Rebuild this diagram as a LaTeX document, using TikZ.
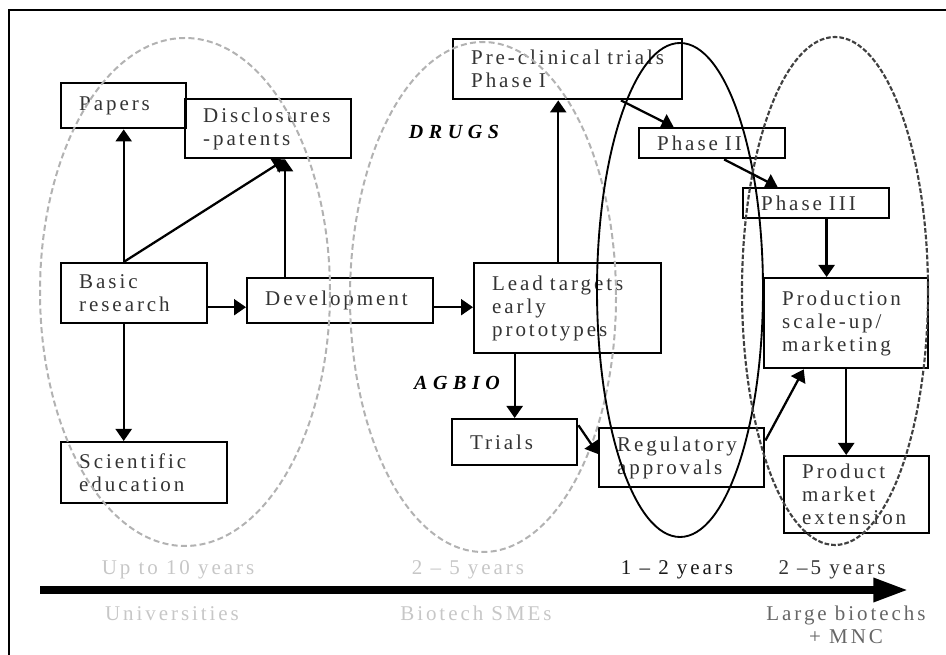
\documentclass[tikz,border=0pt]{standalone}
\usepackage{fontspec}
\setmainfont{Liberation Serif}[LetterSpace=14]
\newfontfamily\tagfont{Liberation Serif}[LetterSpace=28]
\usetikzlibrary{arrows.meta,calc}

\begin{document}
\begin{tikzpicture}[x=.75pt,y=-.75pt,
	font=\fontsize{15.75}{17.25}\selectfont,
	blk/.style={draw,line width=1.8pt,anchor=north west,align=left,inner xsep=13.5pt,inner ysep=0pt,text=black!80},
	arr/.style={line width=1.7pt,-{Triangle[length=9pt,width=12pt]}},
	pale/.style={text=black!22,anchor=base},
	yrs/.style={anchor=base},
	tag/.style={font=\fontsize{15}{17}\selectfont\tagfont\bfseries\itshape,anchor=base},
	paledash/.style={draw=black!30,line width=1.5pt,dash pattern=on 4.5pt off 2.5pt},
	darkdash/.style={draw=black!75,line width=1.6pt,dash pattern=on 3.5pt off 1.5pt}]
	\useasboundingbox (0,0) rectangle (946,655);
	\draw[line width=1.6pt] (9,655) -- (9,10) -- (946,10);% frame
	% boxes
	\node[blk,text width=66.75pt,minimum height=33.75pt] (papers) at (60,82) {Papers};
	\node[blk,text width=97.5pt,minimum height=44.25pt] (disc) at (184,98) {Disclosures\\-patents};
	\node[blk,text width=82.5pt,minimum height=45pt] (basic) at (60,262) {Basic\\ research};
	\node[blk,text width=112.5pt,minimum height=33.75pt] (devel) at (246,277) {Development};
	\node[blk,text width=97.5pt,minimum height=45.75pt] (sci) at (60,441) {Scientific\\education};
	\node[blk,text width=113.25pt,minimum height=67.5pt] (lead) at (473,262) {Lead targets\\ early\\ prototypes};
	\node[blk,text width=144.75pt,minimum height=45pt] (precl) at (452,38) {Pre-clinical trials\\Phase I};
	\node[blk,text width=82.5pt,minimum height=22.5pt] (ph2) at (638,127) {Phase II};
	\node[blk,text width=82.5pt,minimum height=22.5pt] (ph3) at (742,187) {Phase III};
	\node[blk,text width=96pt,minimum height=67.5pt] (prod) at (763,277) {Production\\ scale-up/\\ marketing};
	\node[blk,text width=66.75pt,minimum height=34.5pt] (trials) at (451,418) {Trials};
	\node[blk,text width=96.75pt,minimum height=44.25pt] (reg) at (598,427) {Regulatory\\ approvals};
	\node[blk,text width=81.75pt,minimum height=57.75pt] (pme) at (783,455) {Product\\market\\extension};
	% stages
	\draw[paledash] (185,292) ellipse[x radius=145,y radius=254];
	\draw[paledash] (483,297) ellipse[x radius=133,y radius=255];
	\draw[line width=1.4pt] (680,290) ellipse[x radius=83,y radius=247];
	\draw[darkdash] (835,291) ellipse[x radius=93,y radius=254];
	\node[tag] (drugs) at (454,139) {DRUGS};
	\node[tag] (agb) at (457,390) {AGBIO};
	% links
	\coordinate (discin) at ($(disc.south west)!.6!(disc.south east)$);
	\draw[arr] (papers.south |- basic.north) -- (papers.south);
	\draw[arr] (papers.south |- basic.north) -- (discin);
	\draw[arr] (devel.north -| discin) -- (discin);
	\draw[arr] (papers.south |- basic.south) -- (papers.south |- sci.north);
	\coordinate (flow) at ($(devel.west)+(0,6.5)$);
	\draw[arr] (basic.east |- flow) -- (flow);
	\draw[arr] (devel.east |- flow) -- (lead.west |- flow);
	\coordinate (drug) at ($(lead.north west)!.45!(lead.north east)$);
	\draw[arr] (drug) -- (precl.south -| drug);
	\draw[arr] ($(precl.south west)!.73!(precl.south east)$) -- ($(ph2.north west)!.24!(ph2.north east)$);
	\draw[arr] ($(ph2.south west)!.58!(ph2.south east)$) -- ($(ph3.north west)!.24!(ph3.north east)$);
	\coordinate (ph3out) at ($(ph3.south west)!.57!(ph3.south east)$);
	\draw[arr] (ph3out) -- (prod.north -| ph3out);
	\coordinate (agbio) at ($(lead.south west)!.22!(lead.south east)$);
	\draw[arr] (agbio) -- (trials.north -| agbio);
	\draw[arr] ($(trials.north east)!.15!(trials.south east)$) -- ($(reg.north west)!.44!(reg.south west)$);
	\draw[arr] ($(reg.north east)!.22!(reg.south east)$) -- ($(prod.south west)!.245!(prod.south east)$);
	\draw[arr] (prod.south) -- (pme.north -| prod.south);
	% time axis
	\coordinate (axs) at (40,590);
	\coordinate (axe) at (908,590);
	\draw[line width=5.5pt,-{Triangle[length=26pt,width=17pt]}] (axs) -- (axe);
	\node[pale] (y1) at (178,575) {Up to 10 years};
	\node[pale] (y2) at (468,575) {2 -- 5 years};
	\node[yrs,text=black!90] (y3) at (677,575) {1 -- 2 years};
	\node[yrs,text=black!80] (y4) at (832,575) {2 --5 years};
	\node[pale] (univ) at (172,620) {Universities};
	\node[pale] (sme) at (476,620) {Biotech SMEs};
	\node[yrs,align=center,text=black!60] (mnc) at (846,643) {Large biotechs\\+ MNC};
\end{tikzpicture}
\end{document}
